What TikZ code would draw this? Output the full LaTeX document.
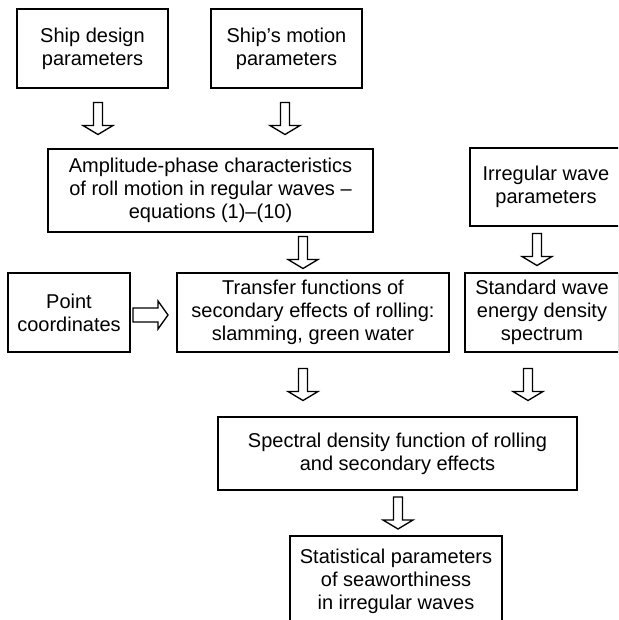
\documentclass[tikz,border=0pt]{standalone}
\usepackage{fontspec}
\setmainfont{Liberation Sans}
\usetikzlibrary{calc}

% hollow block arrow pointing down, between two boxes (#3 = x offset)
\newcommand{\downblock}[3]{%
  \coordinate (mid) at ($(#1.south)!0.5!(#2.north)$);
  \coordinate (c) at ($(#1.south |- mid)+(#3,0)$);
  \draw[blockarrow] ($(c)+(-4.5,-16)$) -- ($(c)+(-4.5,7)$) -- ($(c)+(-15,7)$)
    -- ($(c)+(0,16)$) -- ($(c)+(15,7)$) -- ($(c)+(4.5,7)$) -- ($(c)+(4.5,-16)$) -- cycle;
}
% hollow block arrow pointing right (#3 = y offset)
\newcommand{\rightblock}[3]{%
  \coordinate (mid) at ($(#1.east)!0.5!(#2.west)$);
  \coordinate (c) at ($(mid |- #1.east)+(-3,#3)$);
  \draw[blockarrow] ($(c)+(-17.5,-7)$) -- ($(c)+(7.5,-7)$) -- ($(c)+(7.5,-14)$)
    -- ($(c)+(17.5,0)$) -- ($(c)+(7.5,14)$) -- ($(c)+(7.5,7)$) -- ($(c)+(-17.5,7)$) -- cycle;
}

\begin{document}
\begin{tikzpicture}[x=0.75pt,y=-0.75pt,
    box/.style={draw,line width=1.5pt,align=center,inner sep=0pt,
      font=\fontsize{15}{17.25}\selectfont},
    boxsize/.style 2 args={minimum width=#1*0.75pt,minimum height=#2*0.75pt},
    blockarrow/.style={draw,line width=1pt,line join=miter}]

    % Picture area (the boxes on the right and at the bottom run past it)
    \useasboundingbox (0,0) rectangle (618,620);
    \clip (0,0) rectangle (618,620);

    % Input boxes
    \node[box,boxsize={151}{79}] (ship) at (92.5,48.5) {Ship design\\parameters};
    \node[box,boxsize={151}{79}] (motion) at (286.5,48.5) {Ship's motion\\parameters};
    \node[box,boxsize={325}{83}] (amp) at (210.5,190.5)
        {Amplitude-phase characteristics\\of roll motion in regular waves --\\equations (1)--(10)};
    \node[box,boxsize={152}{78}] (irregular) at (546,187) {Irregular wave\\parameters};

    % Middle row
    \node[box,boxsize={122}{79}] (point) at (69,312.5) {Point\\coordinates};
    \node[box,boxsize={272}{79}] (transfer) at (313,312.5)
        {Transfer functions of\\secondary effects of rolling:\\slamming, green water};
    \node[box,boxsize={154}{79}] (standard) at (542,312.5)
        {Standard wave\\energy density\\spectrum};

    % Results
    \node[box,boxsize={359}{73}] (spectral) at (397.5,453.5)
        {Spectral density function of rolling\\and secondary effects};
    \node[box,boxsize={212}{90}] (stat) at (396,581)
        {Statistical parameters\\of seaworthiness\\in irregular waves};

    % Block arrows
    \downblock{ship}{amp}{5.5}
    \downblock{motion}{amp}{-1.5}
    \downblock{amp}{transfer}{92.5}
    \downblock{irregular}{standard}{-9}
    \rightblock{point}{transfer}{2.5}
    \downblock{transfer}{spectral}{-10}
    \downblock{standard}{spectral}{-14}
    \downblock{spectral}{stat}{0.5}
\end{tikzpicture}
\end{document}
